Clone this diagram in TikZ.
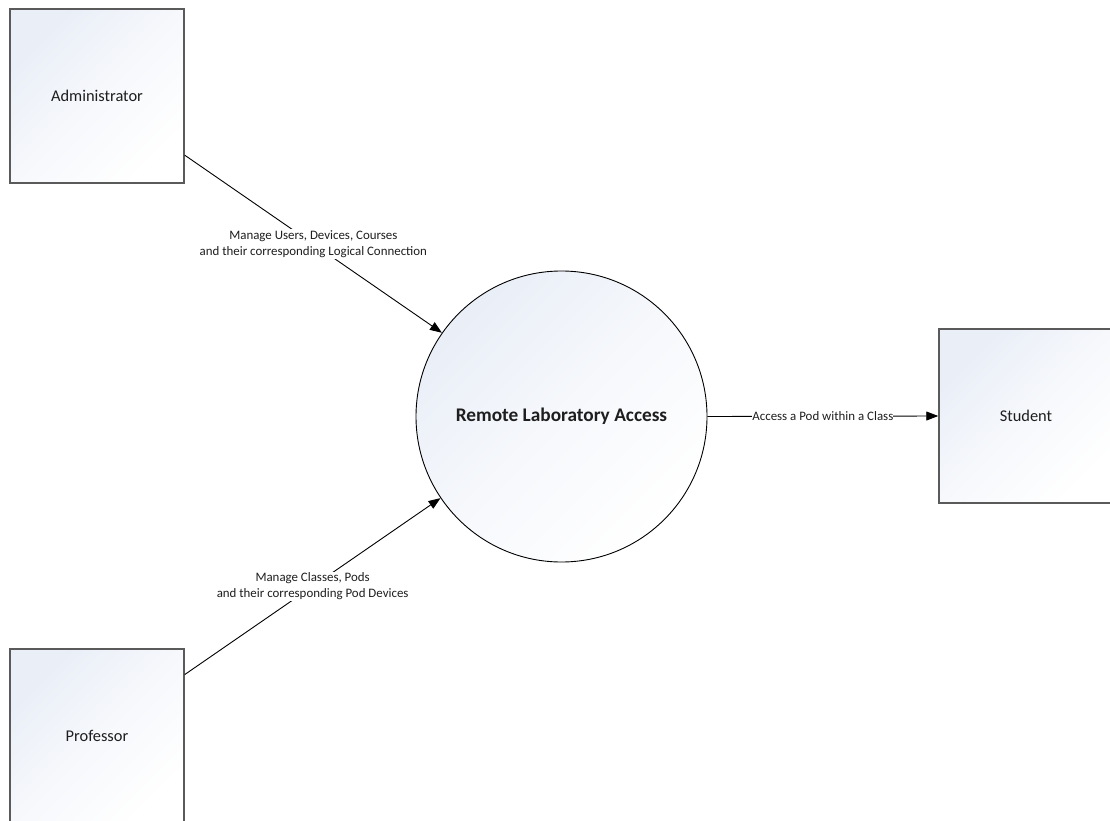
\documentclass[tikz,border=0pt]{standalone}
\usepackage{fontspec}
\setmainfont{Carlito}
\usetikzlibrary{arrows.meta}
\definecolor{boxborder}{HTML}{5A5A5A}
\definecolor{shadetop}{HTML}{E9EEF7}
\definecolor{txt}{HTML}{1E1E1E}
\tikzset{
  entity/.style={draw=boxborder, line width=1.5pt, minimum width=174pt, minimum height=174pt,
    shading=axis, top color=shadetop, bottom color=white, middle color=white!60!shadetop, shading angle=45,
    font=\fontsize{16.4}{18}\selectfont, text=txt, inner sep=0pt},
  process/.style={circle, draw=black, line width=0.9pt, minimum size=291pt,
    shading=axis, top color=shadetop, bottom color=white, middle color=white!60!shadetop, shading angle=45,
    font=\fontsize{19.3}{21}\selectfont\bfseries, text=txt, inner sep=0pt},
  flow/.style={draw=black, line width=0.9pt, -{Triangle[length=12pt,width=9pt]}},
  flowlabel/.style={fill=white, inner sep=1pt, align=center, text=txt,
    font=\fontsize{12.9}{16}\selectfont}
}
\begin{document}
\begin{tikzpicture}[x=1pt,y=-1pt]
\useasboundingbox (0,0) rectangle (1110,821);
\node[entity] (admin) at (97,96) {Administrator};
\node[entity] (prof) at (97,736) {Professor};
\node[entity] (stud) at (1026,416) {Student};
\node[process] (rla) at (561.5,416.5) {Remote Laboratory Access};
\draw[flow] (admin.-34) -- node[flowlabel] {Manage Users, Devices, Courses\\and their corresponding Logical Connection} (rla.145);
\draw[flow] (prof.35) -- node[flowlabel] {Manage Classes, Pods\\and their corresponding Pod Devices} (rla.214);
\draw[flow] (rla.east) -- node[flowlabel, inner xsep=0pt] {Access a Pod within a Class} (stud.west);
\end{tikzpicture}
\end{document}
